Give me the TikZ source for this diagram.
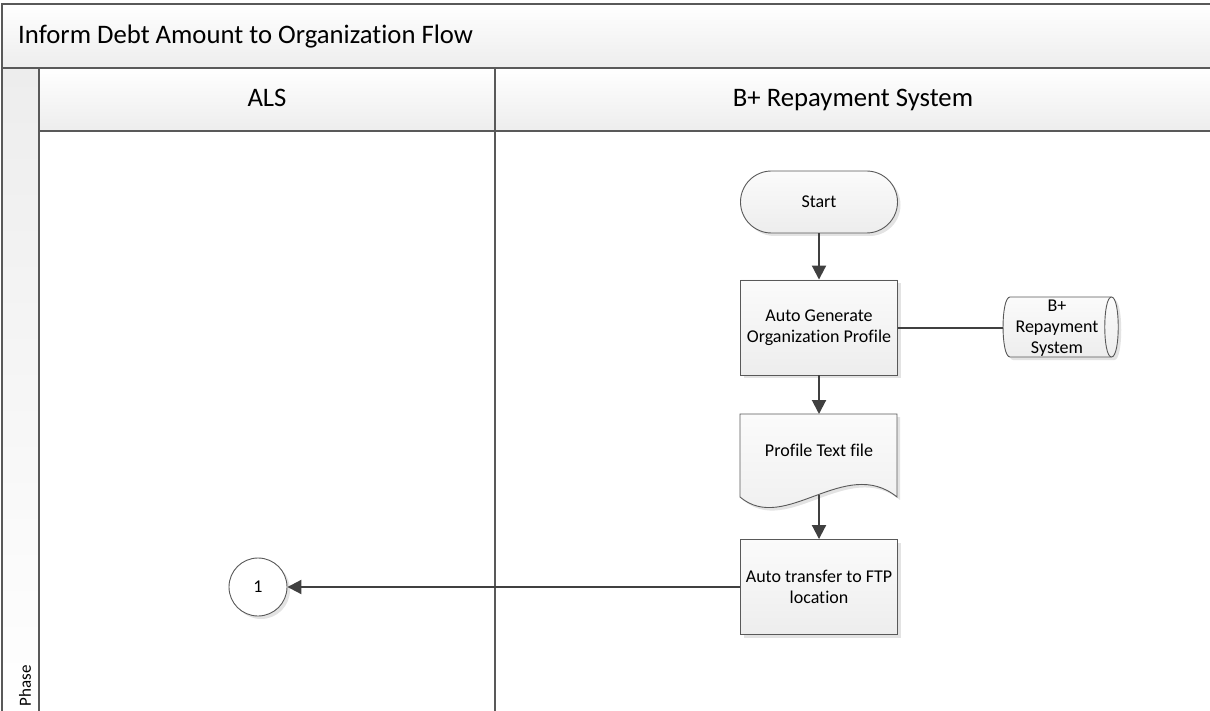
\documentclass[tikz,border=0pt]{standalone}
\usepackage{fontspec}
\setmainfont{Carlito}[Ligatures={NoCommon}]
\usetikzlibrary{arrows.meta,shadows}

\definecolor{wire}{HTML}{404040}
\definecolor{rim}{HTML}{595959}
\definecolor{paleA}{HTML}{FBFBFB}
\definecolor{paleB}{HTML}{EDEDED}

\tikzset{
  poolline/.style={draw=rim, line width=1.6pt},
  lanehead/.style={top color=white, bottom color=paleB},
  headtext/.style={inner sep=0pt, font=\fontsize{26.7}{32}\selectfont},
  boxtext/.style={font=\fontsize{18}{21}\selectfont, align=center, text=black},
  shade/.style={drop shadow={shadow xshift=3pt, shadow yshift=-3pt, fill=black, opacity=0.11}},
  outline/.style={draw=rim, line width=0.9pt},
  procbox/.style={boxtext, shade, outline, top color=paleA, bottom color=paleB,
    minimum width=157pt, minimum height=95pt, inner sep=2pt},
  terminal/.style={boxtext, shade, outline, top color=paleA, bottom color=paleB,
    rounded corners=31pt, minimum width=157pt, minimum height=62pt},
  onpage/.style={boxtext, shade, circle, outline, fill=white,
    minimum size=58pt, inner sep=0pt},
  shadowfill/.style={fill=black, opacity=0.11},
  flow/.style={draw=wire, line width=2pt, -{Triangle[length=14pt, width=14pt]}},
  link/.style={draw=wire, line width=2pt}
}

\begin{document}
\begin{tikzpicture}[x=1pt, y=-1pt]
\useasboundingbox (0,0) rectangle (1210,711);
\clip (0,0) rectangle (1210,711);

% pool title band, phase column and lane headers
\path[top color=white, bottom color=paleB] (2,4) rectangle (1216,68);
\path[top color=paleB, bottom color=white] (2,68) rectangle (39,716);
\path[lanehead] (39,68) rectangle (495,131);
\path[lanehead] (495,68) rectangle (1216,131);

\draw[poolline] (1216,4) -- (2,4) -- (2,716);
\draw[poolline] (2,68) -- (1216,68);
\draw[poolline] (39,131) -- (1216,131);
\draw[poolline] (39,68) -- (39,716);
\draw[poolline] (495,68) -- (495,716);

\node[headtext, anchor=base west] (title) at (18,44) {Inform Debt Amount to Organization Flow};
\node[headtext, anchor=base] (laneA) at (267,107) {ALS};
\node[headtext, anchor=base] (laneB) at (853,107) {B+ Repayment System};
\node[inner sep=0pt, rotate=90, font=\fontsize{17}{20}\selectfont] (phase) at (25,686) {Phase};

% flow steps
\node[terminal] (start) at (819,202) {Start};
\node[procbox] (gen) at (819,327.5) {Auto Generate\\Organization Profile};

% stored data: horizontal drum with an open right end
\fill[shadowfill] (1013,300) -- (1114.5,300) .. controls (1123.5,300) and (1123.5,360) .. (1114.5,360)
  -- (1013,360) .. controls (1003.7,360) and (1003.7,300) .. (1013,300) -- cycle;
\draw[outline, top color=paleA, bottom color=paleB]
  (1010,297) -- (1111.5,297) .. controls (1120.5,297) and (1120.5,357) .. (1111.5,357)
  -- (1010,357) .. controls (1000.7,357) and (1000.7,297) .. (1010,297) -- cycle;
\draw[outline] (1111.5,297) .. controls (1102.5,297) and (1102.5,357) .. (1111.5,357);
\node[boxtext, inner sep=0pt] (db) at (1057,328) {B+\\Repayment\\System};
\coordinate (dbleft) at (1003,327.5);

% document shape with a wavy lower edge
\fill[shadowfill] (743,417) -- (900,417) -- (900,500)
  .. controls (848,458) and (788,538) .. (743,500) -- cycle;
\draw[outline, top color=paleA, bottom color=paleB] (740,414) -- (897,414) -- (897,497)
  .. controls (845,455) and (785,535) .. (740,497) -- cycle;
\node[boxtext, inner sep=0pt] (doc) at (819,450) {Profile Text file};
\coordinate (doctop) at (819,414);
\coordinate (docfoot) at (819,495);

\node[procbox] (ftp) at (819,587) {Auto transfer to FTP\\location};
\node[onpage] (one) at (258,587) {1};

% connectors
\draw[flow] (start) -- (gen);
\draw[link] (gen.east) -- (dbleft);
\draw[flow] (gen.south) -- (doctop);
\draw[flow] (docfoot) -- (ftp);
\draw[flow] (ftp.west) -- (one);
\end{tikzpicture}
\end{document}
